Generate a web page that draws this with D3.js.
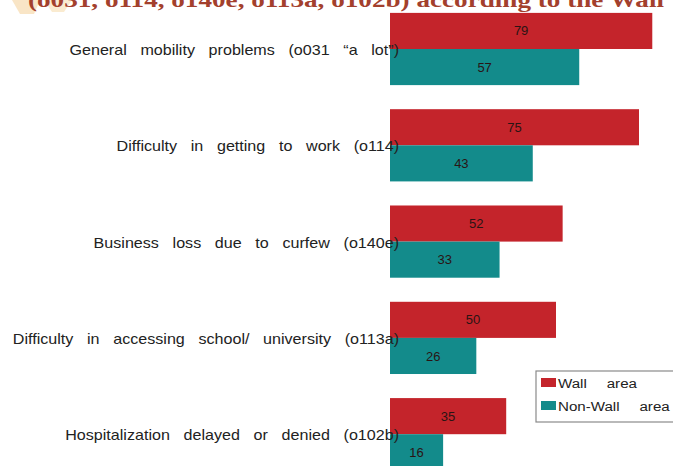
<!DOCTYPE html>
<html>
<head>
<meta charset="utf-8">
<script src="https://cdn.jsdelivr.net/npm/d3@7"></script>
<style>
html,body{margin:0;padding:0;background:#fff;overflow:hidden;}
svg{display:block;}
</style>
</head>
<body>
<svg id="chart" width="673" height="466"></svg>
<script>
const categories = [
  "General mobility problems (o031 \u201ca lot\u201d)",
  "Difficulty in getting to work (o114)",
  "Business loss due to curfew (o140e)",
  "Difficulty in accessing school/ university (o113a)",
  "Hospitalization delayed or denied (o102b)"
];
const seriesNames = ["Wall area", "Non-Wall area"];
const wallValues = [79, 75, 52, 50, 35];
const nonWallValues = [57, 43, 33, 26, 16];
const titleText = "(o031, o114, o140e, o113a, o102b) according to the Wall";

const colors = {"Wall area": "#c4242b", "Non-Wall area": "#138b8b"};
const svg = d3.select("#chart");
const FONT = "Liberation Sans, Arial, sans-serif";

// decoration top-left
svg.append("path").attr("d","M12,0 L40,0 L34,14 L20,14 Z").attr("fill","#f7dfb8").attr("opacity",0.8);
svg.append("path").attr("d","M44,0 L72,0 L64,12 L52,12 Z").attr("fill","#f9e6c4").attr("opacity",0.8);

// title (cut off at top, as in the reference)
svg.append("text")
  .attr("x", 28).attr("y", 7)
  .attr("font-family", "Liberation Serif, DejaVu Serif, serif")
  .attr("font-weight", "bold")
  .attr("font-size", 22)
  .attr("fill", "#a3402d")
  .attr("textLength", 636)
  .attr("lengthAdjust", "spacingAndGlyphs")
  .text(titleText);

const data = categories.map((c, i) => ({cat: c, values: [
  {name: seriesNames[0], v: wallValues[i]},
  {name: seriesNames[1], v: nonWallValues[i]}
]}));

const y0 = d3.scaleBand().domain(categories).range([0.85, 0.85 + 5 * 96.3]).paddingInner(0.25).paddingOuter(0.125);
const y1 = d3.scaleBand().domain(seriesNames).range([0, y0.bandwidth()]);
const x = d3.scaleLinear().domain([0, 100]).range([390, 390 + 332]);

const g = svg.append("g");
const groups = g.selectAll("g.grp").data(data).join("g")
  .attr("class","grp")
  .attr("transform", d => `translate(0,${y0(d.cat)})`);

groups.selectAll("rect").data(d => d.values).join("rect")
  .attr("x", x(0))
  .attr("y", d => y1(d.name))
  .attr("width", d => x(d.v) - x(0))
  .attr("height", y1.bandwidth())
  .attr("fill", d => colors[d.name]);

groups.selectAll("text.val").data(d => d.values).join("text")
  .attr("class","val")
  .attr("x", d => (x(0) + x(d.v)) / 2)
  .attr("y", d => y1(d.name) + y1.bandwidth() / 2)
  .attr("dy", "0.35em")
  .attr("text-anchor", "middle")
  .attr("font-family", FONT)
  .attr("font-size", 13)
  .attr("fill", "#2a1414")
  .text(d => d.v);

// category labels (horizontally stretched like the reference)
groups.append("g")
  .attr("transform", d => `translate(399,${y0.bandwidth() / 2 + 1}) scale(1.15,1)`)
  .append("text")
  .attr("x", 0)
  .attr("y", 0)
  .attr("dy", "0.35em")
  .attr("text-anchor", "end")
  .attr("font-family", FONT)
  .attr("font-size", 14)
  .attr("word-spacing", 8)
  .attr("fill", "#222")
  .text(d => d.cat);

// legend
const lg = svg.append("g").attr("transform", "translate(536,371)");
lg.append("rect").attr("x",0).attr("y",0).attr("width",150).attr("height",51)
  .attr("fill","#fff").attr("stroke","#8a8a8a").attr("stroke-width",1.2);
seriesNames.forEach((s, i) => {
  lg.append("rect").attr("x",5).attr("y",7 + i*23).attr("width",15).attr("height",9).attr("fill",colors[s]);
  lg.append("g").attr("transform", `translate(22,${12 + i*23}) scale(1.12,1)`)
    .append("text").attr("x",0).attr("y",0).attr("dy","0.35em")
    .attr("font-family",FONT).attr("font-size",13.5)
    .attr("word-spacing",14).attr("fill","#222").text(s);
});
</script>
</body>
</html>
